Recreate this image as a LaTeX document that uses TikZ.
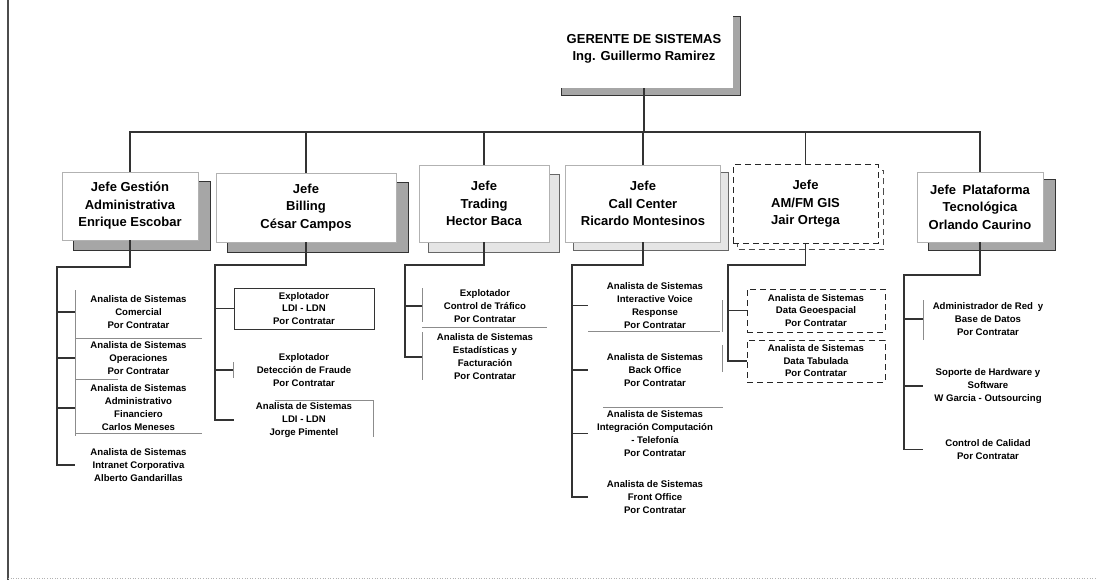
\documentclass[tikz,border=0pt]{standalone}
\usepackage{fontspec}
\setmainfont{Liberation Sans}
\usetikzlibrary{calc,backgrounds}
\newcommand\boxshadow[4]{\path[#1] ($(#2.north west)+(#3,#4)$) rectangle ($(#2.south east)+(#3,#4)$);}
\begin{document}
\begin{tikzpicture}[x=1pt,y=-1pt,
  conn/.style={draw=black!80,line width=1.1pt},
  faint/.style={draw=black!45,line width=0.6pt},
  jefebox/.style={fill=white,draw=black!30,line width=0.5pt,align=center,inner sep=0pt,font=\fontsize{13}{17.5}\selectfont\bfseries},
  subtxt/.style={align=center,inner sep=0pt,font=\fontsize{9.6}{13}\selectfont\bfseries},
  dashbox/.style={draw=black!85,line width=1pt,dash pattern=on 6pt off 4pt},
  shade/.style={fill=black!35,draw=black!80,line width=0.7pt},
  lshade/.style={fill=black!10,draw=black!60,line width=0.6pt},
  dshade/.style={draw=black!70,line width=0.8pt,dash pattern=on 6pt off 4pt},
]
\useasboundingbox (0,0) rectangle (1097,580);
% frame
\draw[black!70,line width=1.2pt] (8,0) -- (8,580);
\draw[black!30,line width=0.6pt,dotted] (8,578) -- (1097,578);

% top box
\node[jefebox,draw=none,minimum width=178pt,minimum height=78pt] (gerente) at (644,49) {GERENTE DE SISTEMAS\\Ing. Guillermo Ramirez};

% jefe boxes
\node[jefebox,minimum width=136pt,minimum height=68pt] (gestion) at (130,206) {Jefe Gestión\\Administrativa\\Enrique Escobar};
\node[jefebox,minimum width=180pt,minimum height=69pt] (billing) at (306,207.5) {Jefe\\Billing\\César Campos};
\node[jefebox,minimum width=130pt,minimum height=77pt] (trading) at (484,203.5) {Jefe\\Trading\\Hector Baca};
\node[jefebox,minimum width=155pt,minimum height=77pt] (callc) at (643,203.5) {Jefe\\Call Center\\Ricardo Montesinos};
\node[jefebox,dashbox,minimum width=145pt,minimum height=78pt] (amfm) at (805.5,204) {Jefe\\AM/FM GIS\\Jair Ortega};
\node[jefebox,minimum width=126pt,minimum height=70pt] (plataforma) at (980,207) {Jefe\enspace Plataforma\\Tecnológica\\Orlando Caurino};

\begin{pgfonlayer}{background}
\boxshadow{shade}{gerente}{7}{7}
\boxshadow{shade}{gestion}{12}{10}
\boxshadow{shade}{billing}{12}{10}
\boxshadow{lshade}{trading}{10}{10}
\boxshadow{lshade}{callc}{8}{8}
\boxshadow{dshade}{amfm}{5}{6}
\boxshadow{shade}{plataforma}{12}{8}
\end{pgfonlayer}

% main bus
\coordinate (bus) at (644,132);
\draw[conn] (gerente.south) -- (bus);
\draw[conn] (gestion.north) |- (bus) -| (plataforma.north);
\draw[conn] (billing.north) -- (billing.north |- bus);
\draw[conn] (trading.north) -- (trading.north |- bus);
\draw[conn] (callc.north) -- (callc.north |- bus);
\draw[conn] (amfm.north) -- (amfm.north |- bus);

% column 1
\node[subtxt,minimum width=127pt] (g1) at (138.5,312) {Analista de Sistemas\\Comercial\\Por Contratar};
\node[subtxt,minimum width=127pt] (g2) at (138.5,358) {Analista de Sistemas\\Operaciones\\Por Contratar};
\node[subtxt,minimum width=127pt] (g3) at (138.5,408) {Analista de Sistemas\\Administrativo\\Financiero\\Carlos Meneses};
\node[subtxt,minimum width=127pt] (g4) at (138.5,465) {Analista de Sistemas\\Intranet Corporativa\\Alberto Gandarillas};
\coordinate (s1) at (57,267);
\draw[conn] (gestion.south) |- (s1) |- (g4.west);
\foreach \n in {g1,g2,g3} \draw[conn] (s1 |- \n.west) -- (\n.west);
\draw[faint] (75,290) -- (75,436);
\draw[faint] (75,338) -- (202,338);
\draw[faint] (75,379) -- (118,379);
\draw[faint] (75,433) -- (202,433);

% column 2
\node[subtxt,draw=black!80,line width=0.8pt,minimum width=140pt,minimum height=41pt,font=\fontsize{9.6}{12.5}\selectfont\bfseries] (b1) at (304,308.5) {Explotador\\LDI - LDN\\Por Contratar};
\node[subtxt,minimum width=140pt] (b2) at (304,370) {Explotador\\Detección de Fraude\\Por Contratar};
\node[subtxt,minimum width=140pt] (b3) at (304,420) {Analista de Sistemas\\LDI - LDN\\Jorge Pimentel};
\coordinate (s2) at (215,265);
\draw[conn] (billing.south) |- (s2) |- (b3.west);
\foreach \n in {b1,b2} \draw[conn] (s2 |- \n.west) -- (\n.west);
\draw[faint] (233,362) -- (233,378);
\draw[faint] (275,400) -- (373,400) -- (373,437);

% column 3
\node[subtxt,minimum width=126pt] (t1) at (485,306) {Explotador\\Control de Tráfico\\Por Contratar};
\node[subtxt,minimum width=126pt] (t2) at (485,357) {Analista de Sistemas\\Estadísticas y\\Facturación\\Por Contratar};
\coordinate (s3) at (405,265);
\draw[conn] (trading.south) |- (s3) |- (t2.west);
\draw[conn] (s3 |- t1.west) -- (t1.west);
\draw[faint] (422,288) -- (422,322);
\draw[faint] (422,332) -- (422,380);
\draw[faint] (422,327) -- (547,327);

% column 4
\node[subtxt,minimum width=134pt] (k1) at (655,305.5) {Analista de Sistemas\\Interactive Voice\\Response\\Por Contratar};
\node[subtxt,minimum width=134pt] (k2) at (655,370) {Analista de Sistemas\\Back Office\\Por Contratar};
\node[subtxt,minimum width=134pt] (k3) at (655,433.5) {Analista de Sistemas\\Integración Computación\\- Telefonía\\Por Contratar};
\node[subtxt,minimum width=134pt] (k4) at (655,497) {Analista de Sistemas\\Front Office\\Por Contratar};
\coordinate (s4) at (572,265);
\draw[conn] (callc.south) |- (s4) |- (k4.west);
\foreach \n in {k1,k2,k3} \draw[conn] (s4 |- \n.west) -- (\n.west);
\draw[faint] (588,331) -- (720,331);
\draw[faint] (722,300) -- (722,332);
\draw[faint] (722,345) -- (722,372);
\draw[faint] (603,407) -- (723,407);

% column 5
\node[subtxt,dashbox,minimum width=138pt,minimum height=43pt,font=\fontsize{9.6}{12.5}\selectfont\bfseries] (a1) at (816,310.5) {Analista de Sistemas\\Data Geoespacial\\Por Contratar};
\node[subtxt,dashbox,minimum width=138pt,minimum height=42pt,font=\fontsize{9.6}{12.5}\selectfont\bfseries] (a2) at (816,361) {Analista de Sistemas\\Data Tabulada\\Por Contratar};
\coordinate (s5) at (728,265);
\draw[conn] (amfm.south) |- (s5) |- (a2.west);
\draw[conn] (s5 |- a1.west) -- (a1.west);

% column 6
\node[subtxt,minimum width=130pt] (p1) at (988,319) {Administrador de Red\enspace y\\Base de Datos\\Por Contratar};
\node[subtxt,minimum width=130pt] (p2) at (988,386) {Soporte de Hardware y\\Software\\W Garcia - Outsourcing};
\node[subtxt,minimum width=130pt] (p3) at (988,449.5) {Control de Calidad\\Por Contratar};
\coordinate (s6) at (904,275);
\draw[conn] (plataforma.south) |- (s6) |- (p3.west);
\foreach \n in {p1,p2} \draw[conn] (s6 |- \n.west) -- (\n.west);
\draw[faint] (923,300) -- (923,340);
\end{tikzpicture}
\end{document}
